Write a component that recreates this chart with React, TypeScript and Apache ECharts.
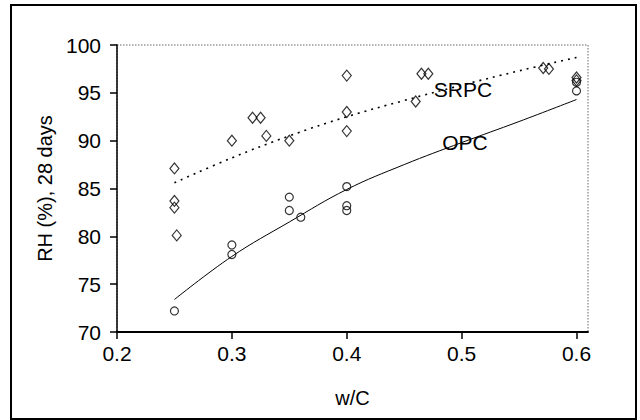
import React, { useEffect, useRef } from "react";
import * as echarts from "echarts";

// SRPC measured points (w/C, RH %)
const srpcX = [0.25, 0.25, 0.25, 0.252, 0.3, 0.318, 0.325, 0.33, 0.35, 0.4, 0.4, 0.4, 0.46, 0.465, 0.471, 0.571, 0.576, 0.6, 0.6];
const srpcY = [87.1, 83.7, 83.0, 80.1, 90.0, 92.4, 92.4, 90.5, 90.0, 96.8, 93.0, 91.0, 94.1, 97.0, 97.0, 97.6, 97.5, 96.6, 96.3];

// OPC measured points
const opcX = [0.25, 0.3, 0.3, 0.35, 0.35, 0.36, 0.4, 0.4, 0.4, 0.6, 0.6];
const opcY = [72.2, 79.1, 78.1, 84.1, 82.7, 82.0, 85.2, 83.2, 82.7, 96.1, 95.2];

// Trend lines
const fitX = [0.25, 0.3, 0.35, 0.4, 0.45, 0.5, 0.55, 0.6];
const srpcFitY = [85.6, 88.2, 90.5, 92.5, 94.2, 95.8, 97.3, 98.7];
const opcFitY = [73.4, 77.9, 81.5, 84.9, 87.5, 89.8, 92.0, 94.3];

const xTicks = [0.2, 0.3, 0.4, 0.5, 0.6];
const yTicks = [70, 75, 80, 85, 90, 95, 100];

const FONT = 'Arial, "Liberation Sans", sans-serif';

const zip = (xs: number[], ys: number[]) => xs.map((x, i) => [x, ys[i]]);

export default function App() {
  const ref = useRef<HTMLDivElement>(null);
  useEffect(() => {
    if (!ref.current) return;
    const chart = echarts.init(ref.current, null, { renderer: "svg" });
    const hollow = { color: "rgba(0,0,0,0)", borderColor: "#000", borderWidth: 1.2 };
    chart.setOption({
      animation: false,
      backgroundColor: "#fff",
      grid: {
        left: 117,
        top: 45,
        right: 52,
        bottom: 88,
        show: true,
        borderColor: "#999",
        borderWidth: 1.5,
        borderType: "dotted",
      },
      xAxis: {
        type: "value",
        min: 0.2,
        max: 0.61,
        name: "w/C",
        nameLocation: "middle",
        nameGap: 56,
        nameTextStyle: { fontSize: 20, color: "#000", fontFamily: FONT },
        axisLine: { show: true, lineStyle: { color: "#000", width: 1.8 } },
        axisTick: { show: true, inside: false, length: 7, customValues: xTicks, lineStyle: { color: "#000", width: 1.5 } },
        axisLabel: { customValues: xTicks, margin: 11, fontSize: 21, color: "#000", fontFamily: FONT },
        splitLine: { show: false },
      },
      yAxis: {
        type: "value",
        min: 70,
        max: 100,
        interval: 5,
        name: "RH (%), 28 days",
        nameLocation: "middle",
        nameRotate: 90,
        nameGap: 58,
        nameTextStyle: { fontSize: 20, color: "#000", fontFamily: FONT },
        axisLine: { show: true, lineStyle: { color: "#000", width: 1.5 } },
        axisTick: { show: true, inside: false, length: 7, customValues: yTicks, lineStyle: { color: "#000", width: 1.5 } },
        axisLabel: { customValues: yTicks, margin: 16, fontSize: 21, color: "#000", fontFamily: FONT },
        splitLine: { show: false },
      },
      series: [
        {
          name: "SRPC fit",
          type: "line",
          data: zip(fitX, srpcFitY),
          smooth: 0.4,
          symbol: "none",
          lineStyle: { color: "#000", width: 1.6, type: [2, 5] },
          z: 2,
        },
        {
          name: "OPC fit",
          type: "line",
          data: zip(fitX, opcFitY),
          smooth: 0.4,
          symbol: "none",
          lineStyle: { color: "#000", width: 1 },
          z: 2,
        },
        {
          name: "SRPC",
          type: "scatter",
          data: zip(srpcX, srpcY),
          symbol: "diamond",
          symbolSize: [9, 11],
          itemStyle: hollow,
          z: 3,
        },
        {
          name: "OPC",
          type: "scatter",
          data: zip(opcX, opcY),
          symbol: "circle",
          symbolSize: 8,
          itemStyle: hollow,
          z: 3,
        },
      ],
      graphic: [
        {
          type: "rect",
          shape: { x: 11, y: 5, width: 625, height: 414 },
          style: { fill: "none", stroke: "#000", lineWidth: 2 },
          silent: true,
        },
        {
          type: "text",
          x: 463,
          y: 89,
          style: { text: "SRPC", fontSize: 21, fill: "#000", fontFamily: FONT, align: "center", verticalAlign: "middle" },
          z: 10,
        },
        {
          type: "text",
          x: 465,
          y: 142,
          style: { text: "OPC", fontSize: 21, fill: "#000", fontFamily: FONT, align: "center", verticalAlign: "middle" },
          z: 10,
        },
      ],
    });
    return () => chart.dispose();
  }, []);
  return (
    <div
      ref={ref}
      style={{ position: "fixed", left: 0, top: 0, width: 640, height: 420 }}
    />
  );
}
